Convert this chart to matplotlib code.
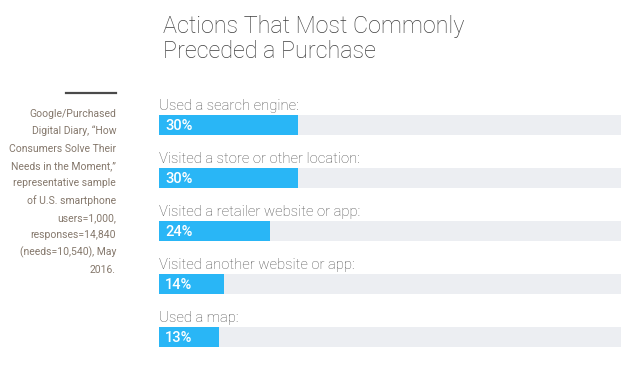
import matplotlib
matplotlib.use("Agg")
import matplotlib.pyplot as plt

categories = [
    "Used a search engine:",
    "Visited a store or other location:",
    "Visited a retailer website or app:",
    "Visited another website or app:",
    "Used a map:",
]
values = [30, 30, 24, 14, 13]
value_labels = ["30%", "30%", "24%", "14%", "13%"]
title_lines = ["Actions That Most Commonly", "Preceded a Purchase"]
source_lines = [
    "Google/Purchased",
    "Digital Diary, \u201cHow",
    "Consumers Solve Their",
    "Needs in the Moment,\u201d",
    "representative sample",
    "of U.S. smartphone",
    "users=1,000,",
    "responses=14,840",
    "(needs=10,540), May",
    "2016.",
]

W, H = 640, 368
fig = plt.figure(figsize=(W / 100, H / 100), dpi=100)
fig.patch.set_facecolor("white")

FONT = ["Roboto", "DejaVu Sans"]
bar_color = "#29b6f6"
track_color = "#eceef2"

# Title
fig.text(163 / W, 1 - 33 / H, title_lines[0], fontsize=16.8, color="#3f3f3f",
         family=FONT, fontweight="light", ha="left", va="baseline")
fig.text(163 / W, 1 - 58 / H, title_lines[1], fontsize=16.8, color="#3f3f3f",
         family=FONT, fontweight="light", ha="left", va="baseline")

# Source note
fig.add_artist(plt.Line2D([66 / W, 116 / W], [1 - 93 / H, 1 - 93 / H],
                          color="#4a4a4a", lw=1.6))
y0 = 117
for i, line in enumerate(source_lines):
    fig.text(116 / W, 1 - (y0 + i * 17.3) / H, line, fontsize=7.5,
             color="#85786c", family=FONT, fontweight="normal",
             ha="right", va="baseline")

# Bars
top_px, bot_px = 98.5, 363.5
left_px, right_px = 159, 621
ax = fig.add_axes([left_px / W, 1 - bot_px / H, (right_px - left_px) / W,
                   (bot_px - top_px) / H])
ax.set_xlim(0, 100)
ax.set_ylim(len(categories) - 0.5, -0.5)
ax.axis("off")

ypos = list(range(len(categories)))
bh = 20 / 53
ax.barh(ypos, [100] * len(categories), height=bh, color=track_color, left=0)
ax.barh(ypos, values, height=bh, color=bar_color)
for y, cat, lab in zip(ypos, categories, value_labels):
    ax.text(0, y - 0.36, cat, fontsize=10.7, color="#4f4f4f", family=FONT,
            fontweight="light", ha="left", va="center")
    ax.text(1.3, y + 0.02, lab, fontsize=10.5, color="white", family=FONT,
            fontweight="medium", ha="left", va="center")

fig.savefig("out.png", dpi=100, facecolor="white")
